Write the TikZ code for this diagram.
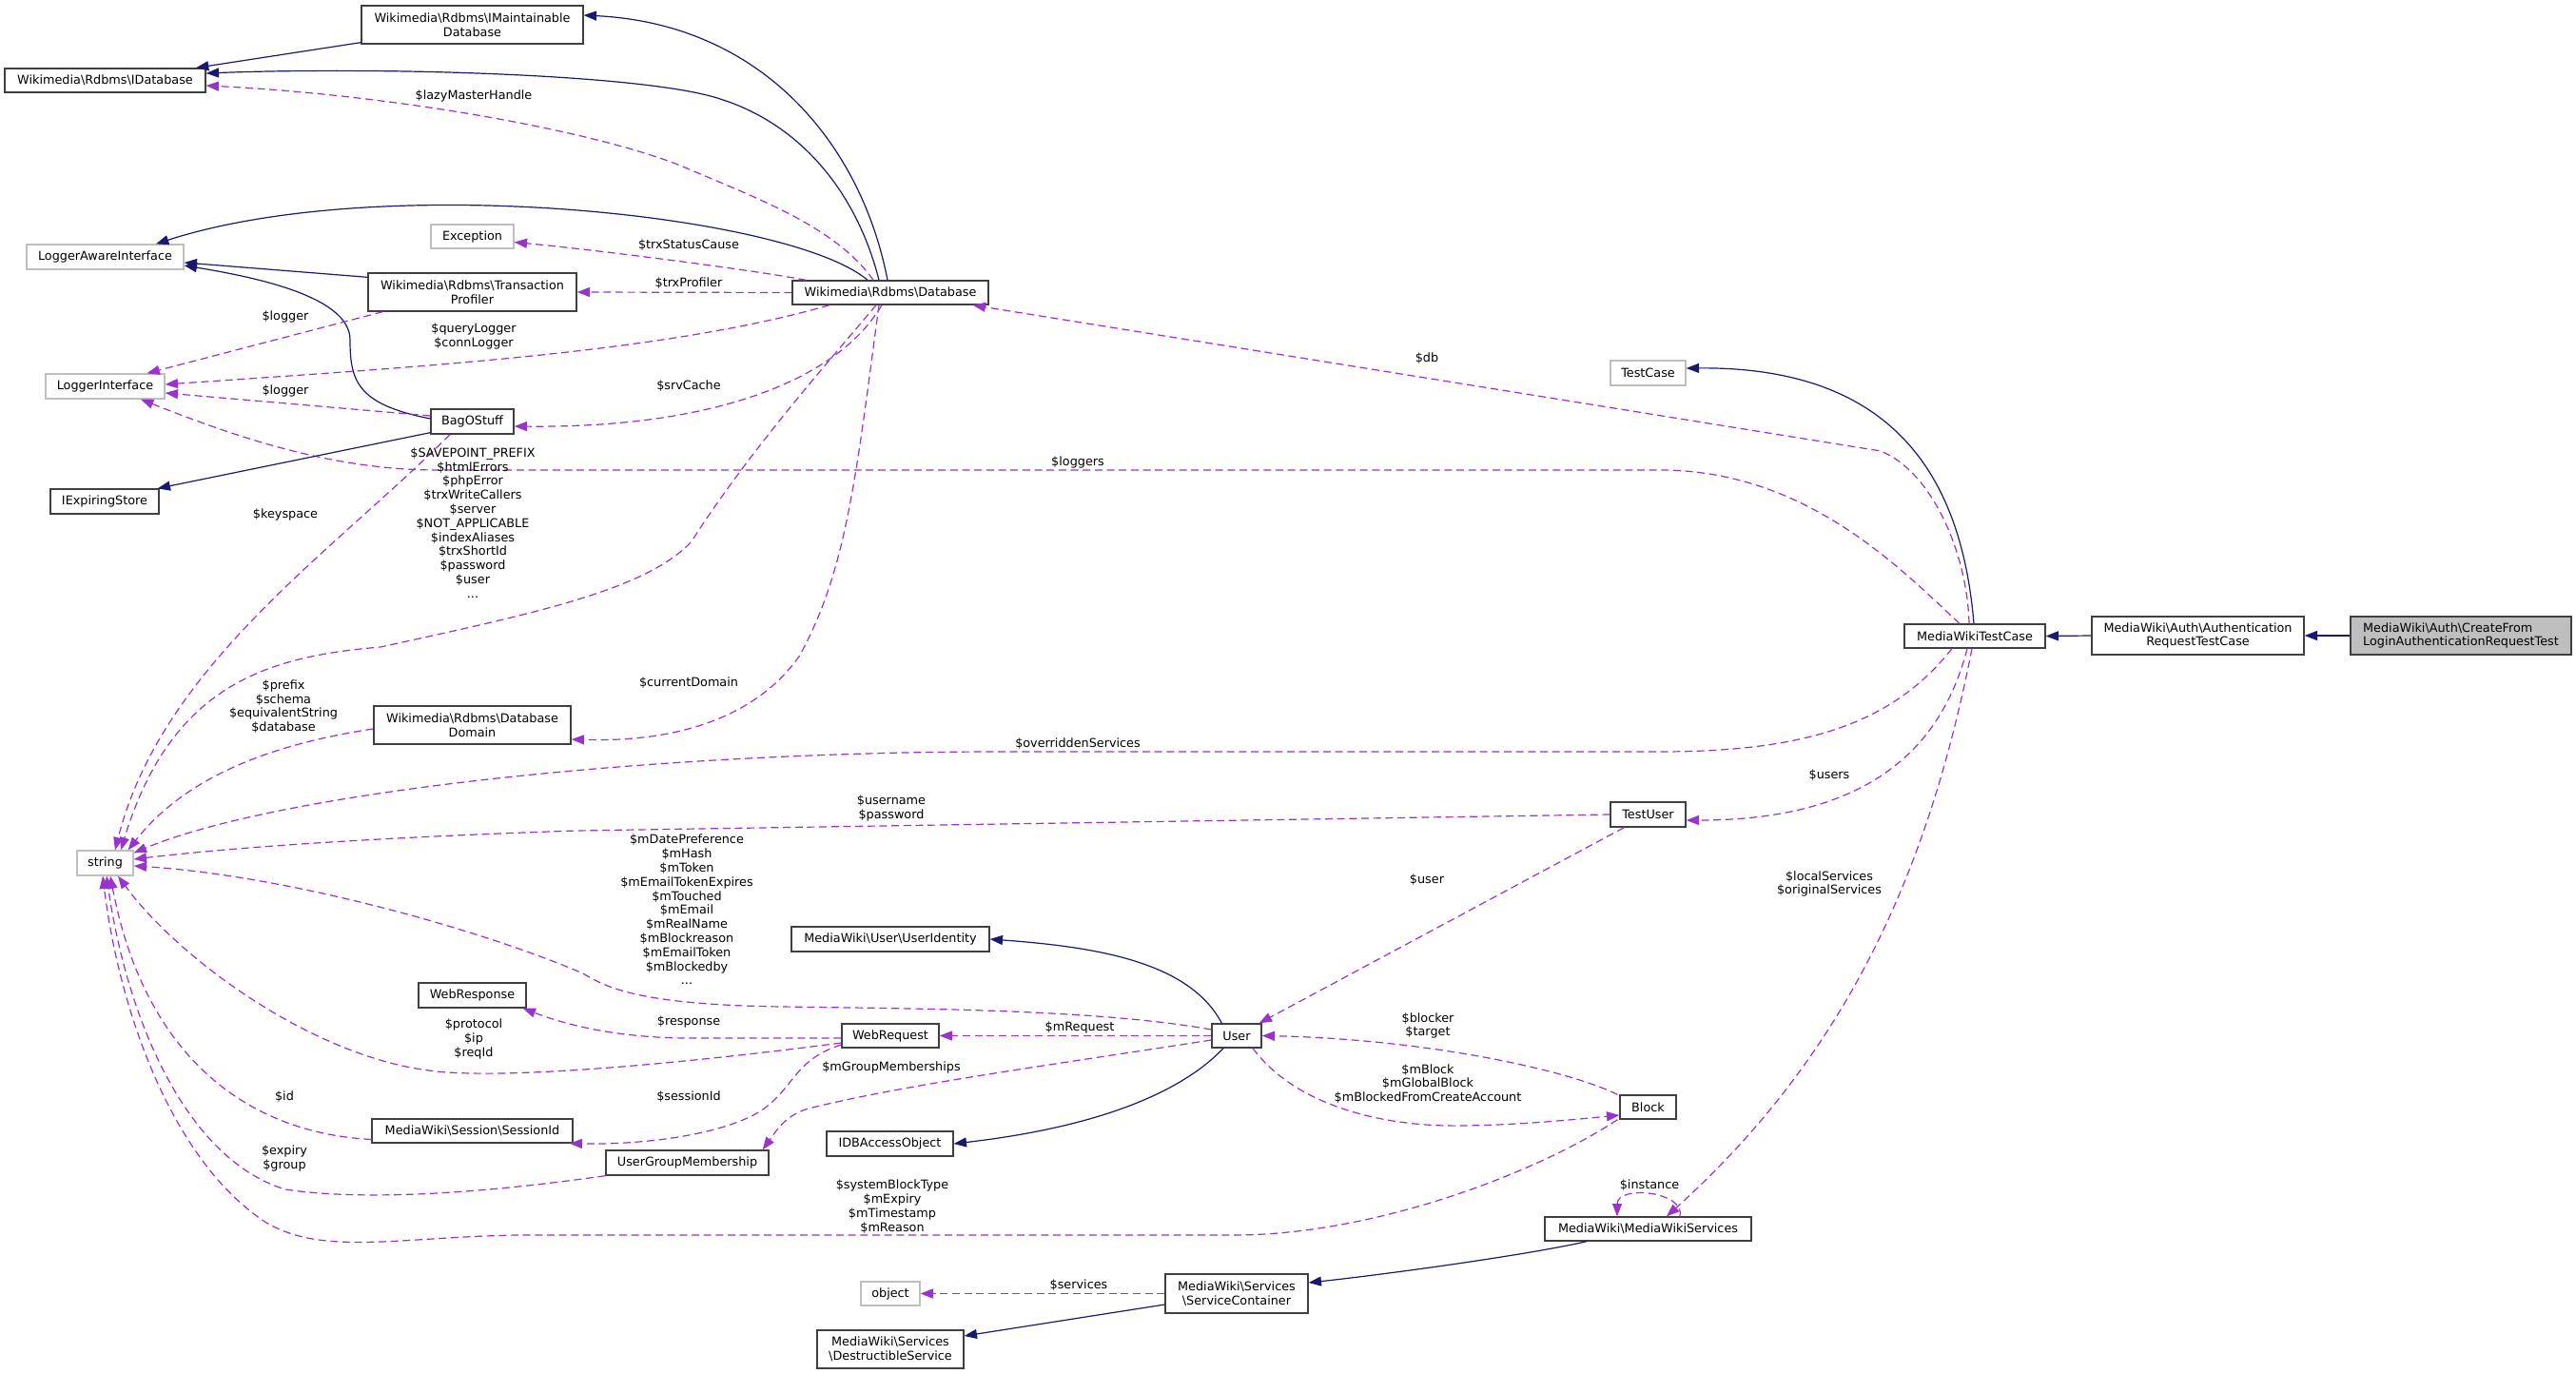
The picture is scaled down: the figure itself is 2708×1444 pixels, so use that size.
\documentclass[tikz,border=0pt]{standalone}
\usepackage{fontspec}
\setmainfont{DejaVu Sans}
\usetikzlibrary{arrows.meta}
\definecolor{navy}{HTML}{191970}
\definecolor{orchid}{HTML}{9A32CD}
\newcommand\bsl{\textbackslash}
\newcommand\dfont{\fontsize{9.6}{11.1}\selectfont}
\newcommand\mkbox[7]{\node[#1, minimum width={(#5-#3)*0.75pt}, minimum height={(#6-#4)*0.75pt}] (#2) at ({(#3+#5)/2},{(#4+#6)/2}) {#7};}
\begin{document}
\begin{tikzpicture}[x=0.75pt,y=-0.75pt,
  cbox/.style={draw=black!75, line width=1pt, fill=white, inner sep=0pt, align=center, font=\dfont},
  gbox/.style={cbox, draw=black!25},
  mbox/.style={cbox, fill=black!25, align=left},
  inhline/.style={draw=navy, line width=0.9pt, -{Triangle[length=10pt,width=7.5pt]}},
  useline/.style={draw=orchid, line width=0.9pt, dash pattern=on 6pt off 3.5pt, -{Triangle[length=10pt,width=7.5pt]}},
  lbl/.style={inner sep=0pt, align=center, font=\dfont}]
\useasboundingbox (0,0) rectangle (2708,1444);
\fill[white] (0,0) rectangle (2708,1444);

% nodes
\mkbox{cbox}{imaint}{380}{6}{613}{46}{Wikimedia\bsl Rdbms\bsl IMaintainable\\Database}
\mkbox{cbox}{idb}{5}{72}{216}{97}{Wikimedia\bsl Rdbms\bsl IDatabase}
\mkbox{gbox}{exc}{453}{236}{540}{261}{Exception}
\mkbox{gbox}{lai}{28}{257}{193}{283}{LoggerAwareInterface}
\mkbox{cbox}{tp}{387}{287}{606}{327}{Wikimedia\bsl Rdbms\bsl Transaction\\Profiler}
\mkbox{cbox}{db}{833}{295}{1039}{320}{Wikimedia\bsl Rdbms\bsl Database}
\mkbox{gbox}{li}{48}{393}{173}{419}{LoggerInterface}
\mkbox{cbox}{bag}{453}{430}{540}{456}{BagOStuff}
\mkbox{cbox}{ies}{53}{514}{167}{540}{IExpiringStore}
\mkbox{cbox}{dd}{393}{742}{600}{782}{Wikimedia\bsl Rdbms\bsl Database\\Domain}
\mkbox{gbox}{str}{81}{894}{140}{920}{string}
\mkbox{cbox}{ui}{832}{974}{1040}{1000}{MediaWiki\bsl User\bsl UserIdentity}
\mkbox{cbox}{wresp}{440}{1033}{553}{1059}{WebResponse}
\mkbox{cbox}{wreq}{885}{1076}{987}{1101}{WebRequest}
\mkbox{cbox}{user}{1274}{1076}{1326}{1101}{User}
\mkbox{cbox}{sid}{391}{1176}{602}{1201}{MediaWiki\bsl Session\bsl SessionId}
\mkbox{cbox}{idbao}{869}{1189}{1002}{1215}{IDBAccessObject}
\mkbox{cbox}{ugm}{637}{1209}{808}{1235}{UserGroupMembership}
\mkbox{cbox}{block}{1703}{1151}{1762}{1176}{Block}
\mkbox{cbox}{mws}{1624}{1279}{1841}{1304}{MediaWiki\bsl MediaWikiServices}
\mkbox{cbox}{sc}{1225}{1339}{1375}{1380}{MediaWiki\bsl Services\\\bsl ServiceContainer}
\mkbox{gbox}{obj}{905}{1347}{967}{1372}{object}
\mkbox{cbox}{ds}{859}{1398}{1013}{1438}{MediaWiki\bsl Services\\\bsl DestructibleService}
\mkbox{gbox}{tc}{1693}{379}{1772}{405}{TestCase}
\mkbox{cbox}{tu}{1693}{843}{1772}{869}{TestUser}
\mkbox{cbox}{mwtc}{2002}{656}{2150}{681}{MediaWikiTestCase}
\mkbox{cbox}{artc}{2199}{648}{2422}{688}{MediaWiki\bsl Auth\bsl Authentication\\RequestTestCase}
\mkbox{mbox}{cf}{2471}{648}{2703}{688}{MediaWiki\bsl Auth\bsl CreateFrom\\LoginAuthenticationRequestTest}

% edges
\draw[inhline] ([shift={(0,-2)}]imaint.south west) -- ([shift={(95.5,0)}]idb.north);
\draw[inhline] ([shift={(-3,0)}]db.north) .. controls (905,150) and (800,25) .. ([shift={(0,-10)}]imaint.east);
\draw[inhline] ([shift={(-12,0)}]db.north) .. controls (900,200) and (840,130) .. (757,104) .. controls (680,78) and (400,70) .. ([shift={(0,-7.5)}]idb.east);
\draw[useline] ([shift={(-18,0)}]db.north) .. controls (880,240) and (800,210) .. (727,179) .. controls (640,140) and (420,100) .. ([shift={(0,5.5)}]idb.east);
\draw[inhline] ([shift={(-24,0)}]db.north) .. controls (830,225) and (400,180) .. ([shift={(53.5,0)}]lai.north);
\draw[useline] ([shift={(15,0)}]db.north west) .. controls (780,282) and (620,262) .. ([shift={(0,6)}]exc.east);
\draw[useline] (db.west) -- (tp.east);
\draw[inhline] ([shift={(0,5)}]tp.north west) -- ([shift={(0,6)}]lai.east);
\draw[inhline] ([shift={(0,-3)}]bag.west) .. controls (375,425) and (368,400) .. (368,357) .. controls (368,310) and (260,290) .. ([shift={(0,9)}]lai.east);
\draw[useline] ([shift={(16,0)}]tp.south west) -- ([shift={(44,0)}]li.north);
\draw[useline] ([shift={(-64,0)}]db.south) .. controls (700,370) and (450,385) .. ([shift={(0,-2)}]li.east);
\draw[useline] ([shift={(0,-6)}]bag.west) -- ([shift={(0,7)}]li.east);
\draw[useline] ([shift={(-16,0)}]mwtc.north) .. controls (2000,600) and (1900,494) .. (1745,494) -- (460,494) .. controls (350,494) and (250,460) .. ([shift={(37.5,0)}]li.south);
\draw[inhline] ([shift={(-1,0)}]mwtc.north) .. controls (2062,500) and (1990,385) .. ([shift={(0,-5)}]tc.east);
\draw[useline] ([shift={(-6,0)}]mwtc.north) .. controls (2068,580) and (2030,495) .. (1977,474) -- ([shift={(-17,0)}]db.south east);
\draw[useline] ([shift={(-24,0)}]mwtc.south) .. controls (1990,760) and (1900,790) .. (1745,790) -- (1050,790) .. controls (700,790) and (300,830) .. ([shift={(0,3)}]str.north east);
\draw[useline] ([shift={(-8,0)}]mwtc.south) .. controls (2040,790) and (1960,862) .. ([shift={(0,6)}]tu.east);
\draw[useline] (tu.west) -- (606,873) .. controls (400,880) and (250,890) .. ([shift={(0,-4)}]str.east);
\draw[useline] ([shift={(15,0)}]tu.south west) -- ([shift={(-3,0)}]user.north east);
\draw[useline] ([shift={(-3,0)}]mwtc.south) .. controls (2030,900) and (1950,1100) .. ([shift={(19.5,0)}]mws.north);
\draw[useline] ([shift={(33.5,0)}]mws.north) .. controls (1772,1252) and (1700,1245) .. ([shift={(-32.5,0)}]mws.north);
\draw[inhline] ([shift={(11,0)}]user.north west) .. controls (1250,1010) and (1150,995) .. (ui.east);
\draw[useline] (user.west) -- (wreq.east);
\draw[useline] ([shift={(0,-6.5)}]user.west) .. controls (1150,1060) and (950,1060) .. (822,1058) .. controls (680,1056) and (640,1040) .. (613,1023) .. controls (500,975) and (300,920) .. ([shift={(0,3)}]str.east);
\draw[useline] ([shift={(0,2.5)}]wreq.west) -- (720,1091) .. controls (640,1090) and (590,1075) .. ([shift={(-4,0)}]wresp.south east);
\draw[useline] ([shift={(0,7.5)}]wreq.west) .. controls (700,1120) and (520,1135) .. (451,1125) .. controls (330,1110) and (190,1010) .. ([shift={(13.5,0)}]str.south);
\draw[useline] ([shift={(0,9.5)}]wreq.west) .. controls (830,1115) and (835,1150) .. (790,1173) .. controls (740,1197) and (660,1203) .. ([shift={(-4,0)}]sid.south east);
\draw[useline] ([shift={(0,9)}]sid.west) .. controls (250,1190) and (150,1100) .. ([shift={(5.5,0)}]str.south);
\draw[useline] (ugm.south west) .. controls (500,1255) and (380,1262) .. (300,1250) .. controls (200,1220) and (135,1080) .. ([shift={(1.5,0)}]str.south);
\draw[useline] ([shift={(0,4.5)}]user.west) .. controls (1100,1120) and (950,1140) .. (850,1165) .. controls (825,1172) and (815,1190) .. ([shift={(-7,0)}]ugm.north east);
\draw[inhline] ([shift={(-14,0)}]user.south) .. controls (1240,1150) and (1150,1185) .. (idbao.east);
\draw[useline] ([shift={(-2,0)}]block.north west) .. controls (1650,1125) and (1500,1092) .. (user.east);
\draw[useline] ([shift={(17,0)}]user.south) .. controls (1360,1160) and (1450,1185) .. (1540,1183) .. controls (1600,1182) and (1650,1177) .. ([shift={(0,8.5)}]block.west);
\draw[useline] ([shift={(-2,0)}]block.south west) .. controls (1620,1230) and (1450,1297) .. (1300,1298) -- (544,1298) .. controls (420,1300) and (340,1320) .. (280,1285) .. controls (180,1220) and (125,1060) .. ([shift={(-2.5,0)}]str.south);
\draw[inhline] ([shift={(-64.5,0)}]mws.south) .. controls (1600,1320) and (1450,1340) .. ([shift={(0,-11.5)}]sc.east);
\draw[useline] (sc.west) -- (obj.east);
\draw[inhline] ([shift={(0,11.5)}]sc.west) -- ([shift={(0,-14)}]ds.east);
\draw[inhline] (artc.west) -- (mwtc.east);
\draw[inhline] (cf.west) -- (artc.east);
\draw[inhline] ([shift={(0,-2)}]bag.south west) -- ([shift={(-2,0)}]ies.north east);
\draw[useline] ([shift={(-15,0)}]db.south) .. controls (880,370) and (790,470) .. (727,569) .. controls (680,620) and (560,645) .. (400,680) .. controls (280,690) and (180,720) .. ([shift={(16.5,0)}]str.north);
\draw[useline] ([shift={(-12,0)}]db.south) .. controls (900,500) and (890,600) .. (840,690) .. controls (790,760) and (700,780) .. ([shift={(0,15)}]dd.east);
\draw[useline] ([shift={(-9,0)}]db.south) .. controls (880,400) and (750,450) .. ([shift={(0,5)}]bag.east);
\draw[useline] ([shift={(-23.5,0)}]bag.south) .. controls (350,580) and (170,700) .. ([shift={(10.5,0)}]str.north);
\draw[useline] ([shift={(0,4)}]dd.west) .. controls (300,780) and (200,810) .. ([shift={(-6,0)}]str.north east);

% labels
\node[lbl] (l1) at (498,101) {\$lazyMasterHandle};
\node[lbl] (l2) at (724,257.5) {\$trxStatusCause};
\node[lbl] (l3) at (724,298) {\$trxProfiler};
\node[lbl] (l4) at (300,333) {\$logger};
\node[lbl] (l5) at (498,353.5) {\$queryLogger\\\$connLogger};
\node[lbl] (l6) at (300,411) {\$logger};
\node[lbl] (l7) at (724,406) {\$srvCache};
\node[lbl] (l8) at (1500,377) {\$db};
\node[lbl] (l9) at (1133,486) {\$loggers};
\node[lbl] (l10) at (497,549.5) {\$SAVEPOINT\_PREFIX\\\$htmlErrors\\\$phpError\\\$trxWriteCallers\\\$server\\\$NOT\_APPLICABLE\\\$indexAliases\\\$trxShortId\\\$password\\\$user\\...};
\node[lbl] (l11) at (300,541) {\$keyspace};
\node[lbl] (l12) at (298,742.5) {\$prefix\\\$schema\\\$equivalentString\\\$database};
\node[lbl] (l13) at (724,717.5) {\$currentDomain};
\node[lbl] (l14) at (1133,782) {\$overriddenServices};
\node[lbl] (l15) at (1923,815) {\$users};
\node[lbl] (l16) at (937,849.5) {\$username\\\$password};
\node[lbl] (l17) at (1500,925) {\$user};
\node[lbl] (l18) at (1923,929) {\$localServices\\\$originalServices};
\node[lbl] (l19) at (722,956) {\$mDatePreference\\\$mHash\\\$mToken\\\$mEmailTokenExpires\\\$mTouched\\\$mEmail\\\$mRealName\\\$mBlockreason\\\$mEmailToken\\\$mBlockedby\\...};
\node[lbl] (l20) at (724,1073.5) {\$response};
\node[lbl] (l21) at (1135,1080) {\$mRequest};
\node[lbl] (l22) at (1501,1078) {\$blocker\\\$target};
\node[lbl] (l23) at (498,1092) {\$protocol\\\$ip\\\$reqId};
\node[lbl] (l24) at (937,1122) {\$mGroupMemberships};
\node[lbl] (l25) at (1501,1139) {\$mBlock\\\$mGlobalBlock\\\$mBlockedFromCreateAccount};
\node[lbl] (l26) at (299,1153) {\$id};
\node[lbl] (l27) at (724,1153) {\$sessionId};
\node[lbl] (l28) at (299,1217.5) {\$expiry\\\$group};
\node[lbl] (l29) at (1734,1246) {\$instance};
\node[lbl] (l30) at (938,1268) {\$systemBlockType\\\$mExpiry\\\$mTimestamp\\\$mReason};
\node[lbl] (l31) at (1134,1351) {\$services};
\end{tikzpicture}
\end{document}
